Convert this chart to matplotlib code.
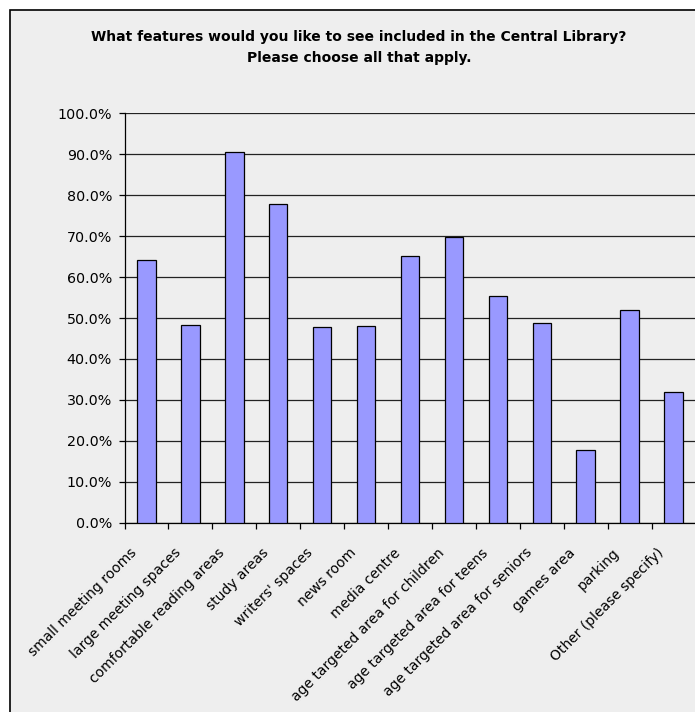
import matplotlib.pyplot as plt
from matplotlib.patches import Rectangle
from matplotlib.ticker import FuncFormatter, MultipleLocator
from matplotlib.transforms import ScaledTranslation, blended_transform_factory

categories = [
    "small meeting rooms", "large meeting spaces", "comfortable reading areas",
    "study areas", "writers' spaces", "news room", "media centre",
    "age targeted area for children", "age targeted area for teens",
    "age targeted area for seniors", "games area", "parking",
    "Other (please specify)",
]
percent = [64.2, 48.4, 90.5, 77.8, 47.8, 48.1, 65.1, 69.9, 55.4, 48.7, 17.8, 52.0, 32.0]

W, H = 695, 712
fig = plt.figure(figsize=(W / 100, H / 100), dpi=100, facecolor="white")

# chart area box (cropped on right and bottom like the source)
fig.patches.append(Rectangle((10 / W, -0.05), 1.0, (H - 10) / H + 0.05,
                             transform=fig.transFigure, facecolor="#EEEEEE",
                             edgecolor="black", linewidth=1.2, zorder=-10))

ax = fig.add_axes([124.5 / W, (H - 522.7) / H, (695.5 - 124.5) / W, (522.7 - 113.3) / H])
ax.set_zorder(5)
ax.set_facecolor("#EEEEEE")

x = list(range(len(categories)))
ax.bar(x, percent, width=0.42, color="#9999FF", edgecolor="black", linewidth=0.9, zorder=3)

ax.set_ylim(0, 100)
ax.set_xlim(-0.5, len(categories) - 0.5)
ax.yaxis.set_major_locator(MultipleLocator(10))
ax.yaxis.set_major_formatter(FuncFormatter(lambda v, p: f"{v:.1f}%"))
ax.grid(axis="y", color="#222222", linewidth=0.9, zorder=0)

# category labels, rotated 45 degrees, drawn as text so they can be nudged
ax.set_xticks(x)
ax.set_xticklabels([])
trans = blended_transform_factory(ax.transData, ax.transAxes) + \
    ScaledTranslation(-17 / 100, -23 / 100, fig.dpi_scale_trans)
for i, name in zip(x, categories):
    ax.text(i, 0, name, transform=trans, rotation=45, ha="right", va="top",
            rotation_mode="anchor", fontsize=10, clip_on=False)

ax.set_xticks([i - 0.5 for i in range(len(categories) + 1)], minor=True)
ax.tick_params(axis="x", which="major", length=0)
ax.tick_params(axis="x", which="minor", length=4, direction="out", width=0.9)
ax.tick_params(axis="y", length=4, width=0.9, labelsize=10.3, pad=5)

for s in ["top", "right"]:
    ax.spines[s].set_visible(False)
for s in ["left", "bottom"]:
    ax.spines[s].set_linewidth(0.9)

fig.text(359 / W, (H - 47.5) / H,
         "What features would you like to see included in the Central Library?\n"
         "Please choose all that apply.",
         ha="center", va="center", fontsize=10, fontweight="bold", linespacing=1.6)

fig.savefig("out.png", dpi=100)
